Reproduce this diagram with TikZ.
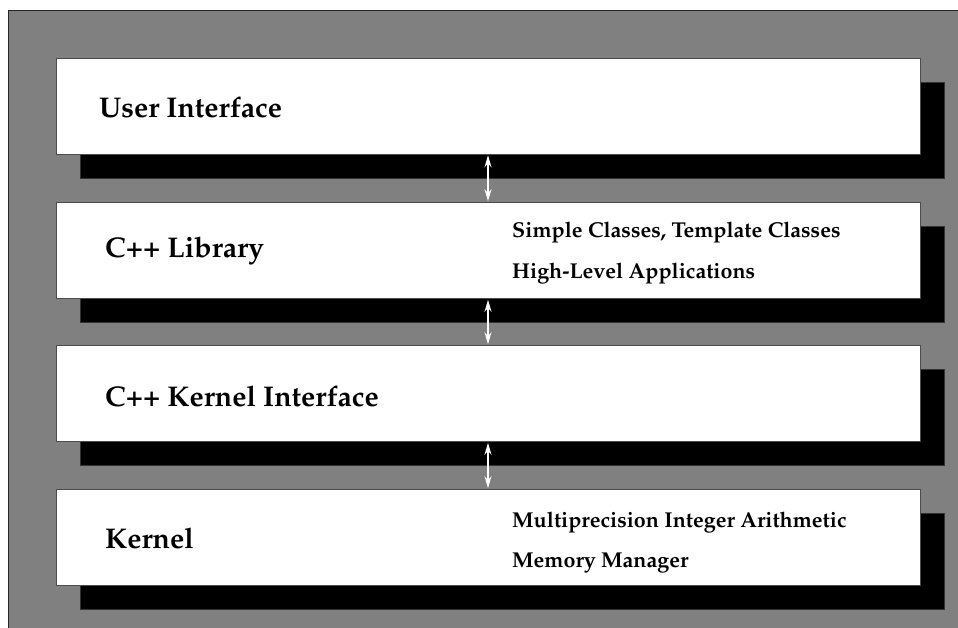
\documentclass[tikz,border=0pt]{standalone}
\usepackage[T1]{fontenc}
\usepackage{mathpazo}
\usetikzlibrary{arrows.meta}
\definecolor{panelgray}{HTML}{808080}
\tikzset{
  layer/.style={draw=black!70, line width=0.6pt, fill=white, minimum width=864pt, minimum height=96pt, inner sep=0pt},
  shade/.style={fill=black, draw=black!80, line width=0.6pt, minimum width=864pt, minimum height=96pt, inner sep=0pt},
  title/.style={anchor=base west, inner sep=0pt, font=\fontsize{28.5}{32}\selectfont\bfseries},
  detail/.style={anchor=base west, inner sep=0pt, font=\fontsize{21.5}{25}\selectfont\bfseries},
  link/.style={white, line width=1.5pt, {Stealth[length=12pt,width=7pt]}-{Stealth[length=12pt,width=7pt]}, shorten >=1pt, shorten <=1pt}
}
\begin{document}
\begin{tikzpicture}[x=1pt,y=-1pt]
  \useasboundingbox (0,0) rectangle (958,628);
  \clip (0,0) rectangle (958,628);
  % grey panel, framed on the left and top
  \fill[panelgray] (8,10) rectangle (970,640);
  \draw[black!85, line width=0.8pt] (8,640) -- (8,10) -- (970,10);

  % layer shadows
  \node[shade] (s1) at (512,130) {};
  \node[shade] (s2) at (512,274.5) {};
  \node[shade] (s3) at (512,417.5) {};
  \node[shade] (s4) at (512,561.5) {};

  % layers
  \node[layer] (ui)  at (488,106)   {};
  \node[layer] (lib) at (488,250.5) {};
  \node[layer] (kif) at (488,393.5) {};
  \node[layer] (ker) at (488,537.5) {};

  % labels
  \node[title] (tui)  at (99,118)  {User Interface};
  \node[title] (tlib) at (105,258) {C++ Library};
  \node[title] (tkif) at (105,406) {C++ Kernel Interface};
  \node[title] (tker) at (105,548) {Kernel};

  \node[detail] (d1) at (512,238) {Simple Classes, Template Classes};
  \node[detail] (d2) at (512,279) {High-Level Applications};
  \node[detail] (d3) at (512,527) {Multiprecision Integer Arithmetic};
  \node[detail] (d4) at (512,567) {Memory Manager};

  % connections between layers
  \draw[link] (ui.south)  -- (lib.north);
  \draw[link] (lib.south) -- (kif.north);
  \draw[link] (kif.south) -- (ker.north);
\end{tikzpicture}
\end{document}
